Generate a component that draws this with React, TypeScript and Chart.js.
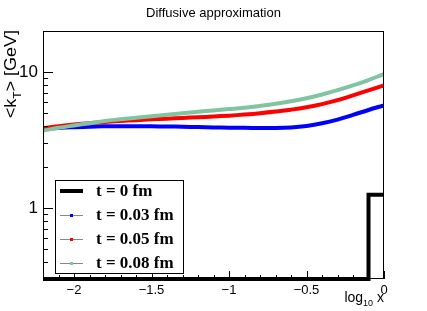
import { useEffect, useRef } from 'react';
import { Chart, registerables } from 'chart.js';

Chart.register(...registerables);

const chartTitle = 'Diffusive approximation';
const xs = [-2.2, -2.1, -2.0, -1.9, -1.8, -1.7, -1.6, -1.5, -1.4, -1.3, -1.2, -1.1, -1.0, -0.9, -0.8, -0.7, -0.6, -0.5, -0.4, -0.3, -0.2, -0.1, 0.0];
const kt003 = [3.80, 3.87, 3.92, 3.96, 3.98, 3.99, 3.99, 3.98, 3.97, 3.95, 3.93, 3.91, 3.89, 3.88, 3.87, 3.87, 3.91, 4.01, 4.19, 4.46, 4.83, 5.25, 5.68];
const kt005 = [3.86, 3.99, 4.10, 4.20, 4.29, 4.36, 4.42, 4.48, 4.53, 4.59, 4.64, 4.70, 4.77, 4.86, 4.97, 5.11, 5.28, 5.50, 5.80, 6.20, 6.72, 7.32, 7.95];
const kt008 = [3.70, 3.88, 4.04, 4.20, 4.36, 4.48, 4.60, 4.72, 4.85, 4.97, 5.09, 5.21, 5.33, 5.46, 5.63, 5.83, 6.08, 6.40, 6.82, 7.34, 7.96, 8.72, 9.65];
const binEdges = [-2.2, -2.1, -2.0, -1.9, -1.8, -1.7, -1.6, -1.5, -1.4, -1.3, -1.2, -1.1, -1.0, -0.9, -0.8, -0.7, -0.6, -0.5, -0.4, -0.3, -0.2, -0.1, 0.0];
const t0Counts = [0, 0, 0, 0, 0, 0, 0, 0, 0, 0, 0, 0, 0, 0, 0, 0, 0, 0, 0, 0, 0, 1.25];
const legendLabels = ['t = 0 fm', 't = 0.03 fm', 't = 0.05 fm', 't = 0.08 fm'];
const xTickValues = [-2, -1.5, -1, -0.5, 0];
const yTickValues = [1, 10];
const xMin = -2.2;
const xMax = 0;
const yMin = 0.3;
const yMax = 20;

const BLUE = '#0000ff';
const RED = '#ff0000';
const GREEN = '#80c4a2';

const fmtX = (v: number) => (v === 0 ? '0' : (v < 0 ? '\u2212' : '') + String(Math.abs(v)));

const decor = {
  id: 'decor',
  afterDatasetsDraw(chart: any) {
    const { ctx, chartArea } = chart;
    const { left, right, top, bottom } = chartArea;
    const x = chart.scales.x;
    const y = chart.scales.y;
    ctx.save();
    // frame
    ctx.strokeStyle = '#000';
    ctx.lineWidth = 1;
    ctx.strokeRect(Math.round(left) + 0.5, Math.round(top) + 0.5, Math.round(right - left) - 1, Math.round(bottom - top) - 1);

    // y ticks (log)
    ctx.beginPath();
    for (let dec = 0.1; dec <= 10; dec *= 10) {
      for (let m = 1; m <= 9; m++) {
        const v = +(m * dec).toPrecision(3);
        if (v < yMin - 1e-9 || v > yMax + 1e-9) continue;
        const py = Math.round(y.getPixelForValue(v)) + 0.5;
        const len = m === 1 ? 10 : 5;
        ctx.moveTo(left, py);
        ctx.lineTo(left + len, py);
      }
    }
    // x ticks
    for (let i = 0; i <= 22; i++) {
      const v = +(xMin + i * 0.1).toFixed(2);
      const px = Math.round(x.getPixelForValue(v)) + 0.5;
      const major = Math.abs(v * 2 - Math.round(v * 2)) < 1e-6;
      const len = major ? 8 : 4;
      ctx.moveTo(px, bottom);
      ctx.lineTo(px, bottom - len);
    }
    ctx.stroke();

    // title
    ctx.fillStyle = '#000';
    ctx.font = '13px "Liberation Sans", Arial, sans-serif';
    ctx.textAlign = 'center';
    ctx.textBaseline = 'alphabetic';
    ctx.fillText(chartTitle, chart.width / 2, 17);

    // x axis title: log10 x
    ctx.textAlign = 'left';
    const f1 = '14px "Liberation Sans", Arial, sans-serif';
    const f2 = '9px "Liberation Sans", Arial, sans-serif';
    ctx.font = f1;
    const wLog = ctx.measureText('log').width;
    const wX = ctx.measureText(' x').width;
    ctx.font = f2;
    const w10 = ctx.measureText('10').width;
    let sx = right - (wLog + w10 + wX);
    const by = 302;
    ctx.font = f1;
    ctx.fillText('log', sx, by);
    sx += wLog;
    ctx.font = f2;
    ctx.fillText('10', sx, by + 4);
    sx += w10;
    ctx.font = f1;
    ctx.fillText(' x', sx, by);

    // y axis title: <k_T> [GeV]
    ctx.save();
    ctx.translate(16, top - 1);
    ctx.rotate(-Math.PI / 2);
    ctx.scale(1, 0.9);
    const g1 = '18px "Liberation Sans", Arial, sans-serif';
    const g2 = '12px "Liberation Sans", Arial, sans-serif';
    ctx.font = g1;
    const a = ctx.measureText('<k').width;
    const c = ctx.measureText('> [GeV]').width;
    ctx.font = g2;
    const b = ctx.measureText('T').width;
    let tx = -(a + b + c);
    ctx.textAlign = 'left';
    ctx.font = g1;
    ctx.fillText('<k', tx, 0);
    tx += a;
    ctx.font = g2;
    ctx.fillText('T', tx, 5);
    tx += b;
    ctx.font = g1;
    ctx.fillText('> [GeV]', tx, 0);
    ctx.restore();

    // legend
    const lx = 55, ly = 180, lw = 128, lh = 93;
    ctx.fillStyle = '#fff';
    ctx.fillRect(lx, ly, lw, lh);
    ctx.strokeStyle = '#000';
    ctx.lineWidth = 1;
    ctx.strokeRect(lx + 0.5, ly + 0.5, lw, lh);
    const colors = ['#000', BLUE, RED, GREEN];
    legendLabels.forEach((lab, i) => {
      const cy = 191 + i * 24;
      if (i === 0) {
        ctx.strokeStyle = '#000';
        ctx.lineWidth = 4;
        ctx.beginPath();
        ctx.moveTo(60, cy);
        ctx.lineTo(83, cy);
        ctx.stroke();
      } else {
        ctx.strokeStyle = '#888';
        ctx.lineWidth = 1;
        ctx.beginPath();
        ctx.moveTo(60, Math.round(cy) + 0.5);
        ctx.lineTo(83, Math.round(cy) + 0.5);
        ctx.stroke();
        ctx.fillStyle = colors[i];
        ctx.fillRect(70, Math.round(cy) - 1, 3, 3);
      }
      ctx.fillStyle = '#000';
      ctx.font = 'bold 17px "Liberation Serif", "Times New Roman", serif';
      ctx.textAlign = 'left';
      ctx.textBaseline = 'middle';
      ctx.fillText(lab, 96, cy + 1);
      ctx.textBaseline = 'alphabetic';
    });
    ctx.restore();
  },
};

export default function App() {
  const ref = useRef<HTMLCanvasElement | null>(null);
  useEffect(() => {
    if (!ref.current) return;
    const histPoints = binEdges.map((e, i) => ({ x: e, y: Math.max(t0Counts[Math.min(i, t0Counts.length - 1)], yMin) }));
    const mk = (arr: number[]) => xs.map((v, i) => ({ x: v, y: arr[i] }));
    const chart = new Chart(ref.current, {
      type: 'line',
      data: {
        datasets: [
          { label: legendLabels[3], data: mk(kt008), borderColor: GREEN, borderWidth: 4, pointRadius: 0, tension: 0.4, order: 0 },
          { label: legendLabels[2], data: mk(kt005), borderColor: RED, borderWidth: 4, pointRadius: 0, tension: 0.4, order: 1 },
          { label: legendLabels[1], data: mk(kt003), borderColor: BLUE, borderWidth: 4, pointRadius: 0, tension: 0.4, order: 2 },
          { label: legendLabels[0], data: histPoints, borderColor: '#000', borderWidth: 4, pointRadius: 0, stepped: 'before', order: 3, clip: { left: 0, top: 0, right: 0, bottom: 5 } as any },
        ],
      } as any,
      options: {
        responsive: false,
        animation: false,
        layout: { padding: { top: 31, right: 43, left: 0, bottom: 0 } },
        plugins: { legend: { display: false }, tooltip: { enabled: false }, title: { display: false } },
        scales: {
          x: {
            type: 'linear',
            min: xMin,
            max: xMax,
            grid: { display: false, drawTicks: false },
            border: { display: false },
            ticks: {
              autoSkip: false,
              maxRotation: 0,
              padding: 4,
              color: '#000',
              font: { family: '"Liberation Sans", Arial, sans-serif', size: 13 },
              callback: (v: any) => fmtX(Number(v)),
            },
            afterBuildTicks: (s: any) => { s.ticks = xTickValues.map((v) => ({ value: v })); },
            afterFit: (s: any) => { s.height = 32; },
          },
          y: {
            type: 'logarithmic',
            min: yMin,
            max: yMax,
            grid: { display: false, drawTicks: false },
            border: { display: false },
            ticks: {
              autoSkip: false,
              padding: 5,
              color: '#000',
              font: { family: '"Liberation Sans", Arial, sans-serif', size: 17 },
              callback: (v: any) => String(v),
            },
            afterBuildTicks: (s: any) => { s.ticks = yTickValues.map((v) => ({ value: v })); },
            afterFit: (s: any) => { s.width = 43; },
          },
        },
      } as any,
      plugins: [decor],
    });
    return () => chart.destroy();
  }, []);
  return (
    <div style={{ position: 'absolute', left: 0, top: 0, width: 427, height: 311, background: '#fff' }}>
      <canvas ref={ref} width={427} height={311} style={{ display: 'block' }} />
    </div>
  );
}
